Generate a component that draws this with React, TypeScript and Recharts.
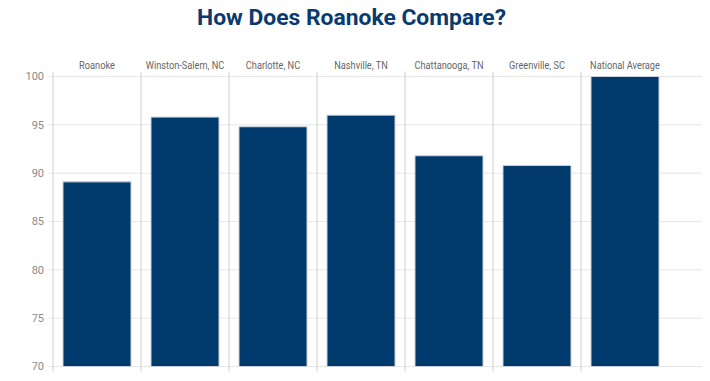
import React from "react";
import { BarChart, Bar, XAxis, YAxis, CartesianGrid } from "recharts";

const categories = [
  "Roanoke",
  "Winston-Salem, NC",
  "Charlotte, NC",
  "Nashville, TN",
  "Chattanooga, TN",
  "Greenville, SC",
  "National Average",
];
const values = [89.1, 95.8, 94.8, 96.0, 91.8, 90.8, 100];
const yTicks = [70, 75, 80, 85, 90, 95, 100];
const title = "How Does Roanoke Compare?";

const data = categories.map((name, i) => ({ name, value: values[i] }));

const CHART_W = 710;
const CHART_H = 381;
const MARGIN = { top: 46.5, right: 41, bottom: 14.5, left: 8 };

const CatTick = (props: any) => {
  const { x, y, payload } = props;
  return (
    <g transform={`translate(${x},${y})`}>
      <text
        x={0}
        y={0}
        dy={0.5}
        textAnchor="middle"
        fontSize={11}
        fill="#666"
        fontFamily="Roboto, sans-serif"
        transform="scale(0.84,1)"
      >
        {payload.value}
      </text>
    </g>
  );
};

export default function App() {
  const n = categories.length;
  return (
    <div
      style={{
        position: "relative",
        width: CHART_W,
        height: CHART_H,
        overflow: "hidden",
        margin: -8,
      }}
    >
      <svg
        width={CHART_W}
        height={40}
        style={{ position: "absolute", left: 0, top: 0 }}
      >
        <text
          x={351.5}
          y={25}
          textAnchor="middle"
          fontFamily="Roboto, 'Noto Sans', sans-serif"
          fontWeight={700}
          fontSize={22.5}
          fill="#0a3a6e"
          textLength={309}
          lengthAdjust="spacingAndGlyphs"
        >
          {title}
        </text>
      </svg>
      <BarChart
        width={CHART_W}
        height={CHART_H}
        data={data}
        margin={MARGIN}
        barCategoryGap={10}
      >
        <CartesianGrid
          stroke="#e6e6e6"
          verticalCoordinatesGenerator={(props: any) => {
            const off = props && props.offset ? props.offset : { left: 53, width: 616 };
            const band = off.width / n;
            const arr: number[] = [];
            for (let i = 0; i < n; i++) arr.push(off.left + i * band);
            return arr;
          }}
          vertical={(p: any) => (
            <line
              key={p.key}
              x1={p.x1}
              x2={p.x2}
              y1={p.y1 - 5}
              y2={p.y2 + 5}
              stroke="#cfcfcf"
              strokeWidth={1}
            />
          )}
          horizontal={(p: any) => (
            <line
              key={p.key}
              x1={p.x1 - 5}
              x2={CHART_W}
              y1={p.y1}
              y2={p.y2}
              stroke="#e6e6e6"
              strokeWidth={1}
            />
          )}
        />
        <XAxis
          dataKey="name"
          orientation="top"
          height={30}
          axisLine={false}
          tickLine={false}
          interval={0}
          tick={<CatTick />}
        />
        <YAxis
          domain={[70, 100]}
          ticks={yTicks}
          width={45}
          axisLine={false}
          tickLine={false}
          tickSize={5}
          tickMargin={4}
          interval={0}
          tick={{ fontSize: 11, fill: "#8a8a8a", fontFamily: "Roboto, sans-serif" }}
        />
        <Bar
          dataKey="value"
          fill="#013a6c"
          stroke="#c9d2dc"
          strokeWidth={1}
          isAnimationActive={false}
        />
      </BarChart>
    </div>
  );
}
